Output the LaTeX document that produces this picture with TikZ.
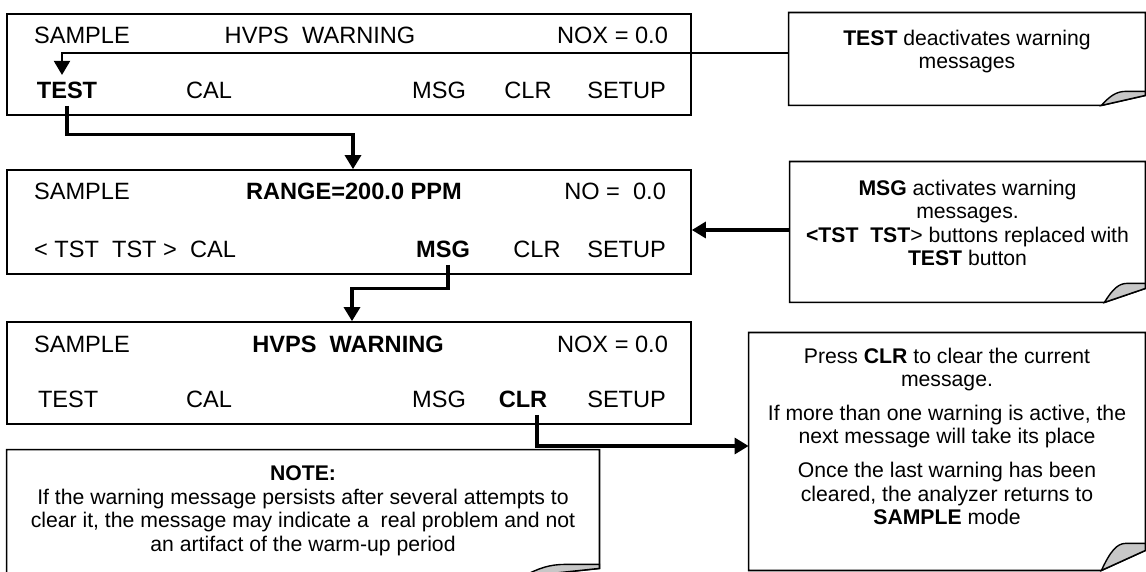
\documentclass[tikz,border=0pt]{standalone}
\usepackage{fontspec}
\setmainfont{Liberation Sans}
\usepackage{tikz}
\usetikzlibrary{arrows.meta}
\usetikzlibrary{positioning}
\tikzset{>={Triangle[width=8pt,length=7pt]}}
\tikzset{screen/.style = {draw, line width=0.85pt, minimum width=342pt, inner sep=0pt}}
\tikzset{key/.style = {anchor=base, font=\fontsize{11.8}{14}\selectfont}}
\tikzset{callbox/.style = {inner sep=0pt}}
\tikzset{calltext/.style = {anchor=north, align=center, font=\fontsize{10.6}{11.8}\selectfont}}
\tikzset{link/.style = {->, line width=1.6pt}}
\tikzset{thinlink/.style = {->, line width=1pt}}
\newcommand{\foldbox}[4]{%
  \draw[line width=0.85pt] (#1.north west) -- (#1.north east) -- ([yshift=#3]#1.south east)
    -- ([xshift=-#2]#1.south east) -- (#1.south west) -- cycle;
  \draw[line width=0.7pt, fill=black!22] ([xshift=-#2]#1.south east)
    .. controls ([xshift={-0.8*#2},yshift={0.7*#4}]#1.south east) and ([xshift={-0.65*#2},yshift={#4}]#1.south east)
    .. ([xshift={-0.45*#2},yshift={#4}]#1.south east) -- ([yshift={#4}]#1.south east)
    -- ([yshift=#3]#1.south east) -- cycle;
}

\begin{document}
\begin{tikzpicture}[x=0.5pt,y=-0.5pt]
  \clip (0,0) rectangle (1146,572);
  \useasboundingbox (0,0) rectangle (1146,572);

  \node[screen, minimum height=50.5pt] (scr1) at (349,64.5) {};
  \node[screen, minimum height=52pt] (scr2) at (349,222) {};
  \node[screen, minimum height=51pt] (scr3) at (349,373) {};

  \node[key, anchor=base west] (sample1) at (27,44) {SAMPLE};
  \node[key] (title1) at (320,44) {HVPS\ \ WARNING};
  \node[key, anchor=base east] (nox1) at (675,44) {NOX = 0.0};
  \node[key] (test1) at (67,98.5) {\textbf{TEST}};
  \node[key] (cal1) at (209,98.5) {CAL};
  \node[key] (msg1) at (439,98.5) {MSG};
  \node[key] (clr1) at (528,98.5) {CLR};
  \node[key, anchor=base east] (setup1) at (673,98.5) {SETUP};

  \node[key, anchor=base west] (sample2) at (27,200) {SAMPLE};
  \node[key] (range2) at (354,200) {\textbf{RANGE=200.0 PPM}};
  \node[key, anchor=base east] (no2) at (673,200) {NO =\ \ 0.0};
  \node[key, anchor=base west] (tst2) at (27,257.5) {< TST\ \ TST >\ \ CAL};
  \node[key] (msg2) at (443,257.5) {\textbf{MSG}};
  \node[key] (clr2) at (537,257.5) {CLR};
  \node[key, anchor=base east] (setup2) at (673,257.5) {SETUP};

  \node[key, anchor=base west] (sample3) at (27,352) {SAMPLE};
  \node[key] (title3) at (348,352) {\textbf{HVPS\ \ WARNING}};
  \node[key, anchor=base east] (nox3) at (675,352) {NOX = 0.0};
  \node[key, anchor=base west] (test3) at (31,407.5) {TEST};
  \node[key] (cal3) at (209,407.5) {CAL};
  \node[key] (msg3) at (439,407.5) {MSG};
  \node[key] (clr3) at (523,407.5) {\textbf{CLR}};
  \node[key, anchor=base east] (setup3) at (673,407.5) {SETUP};

  \node[callbox, minimum width=178pt, minimum height=46pt] (testbox) at (967,59) {};
  \node[callbox, minimum width=177.5pt, minimum height=70pt] (msgbox) at (967.5,232) {};
  \node[callbox, minimum width=198pt, minimum height=118.5pt] (clrbox) at (947,451.5) {};
  \node[callbox, minimum width=296pt, minimum height=63pt] (notebox) at (303,513) {};
  \foldbox{testbox}{22pt}{5pt}{7pt}
  \foldbox{msgbox}{20.5pt}{7pt}{9.5pt}
  \foldbox{clrbox}{22pt}{10pt}{13.5pt}
  \foldbox{notebox}{38pt}{4pt}{6pt}

  \node[calltext] (testtxt) at ([yshift=-5pt]testbox.north) {\textbf{TEST} deactivates warning\\messages};
  \node[calltext] (msgtxt) at ([yshift=-5.5pt]msgbox.north) {\textbf{MSG} activates warning\\messages.\\\textbf{<TST\ \ TST}> buttons replaced with\\\textbf{TEST} button};
  \node[calltext] (clrtxt) at ([yshift=-4pt]clrbox.north) {Press \textbf{CLR} to clear the current\\message.\\[5pt]If more than one warning is active, the\\next message will take its place\\[5pt]Once the last warning has been\\cleared, the analyzer returns to\\\textbf{SAMPLE} mode};
  \node[calltext] (notetxt) at ([yshift=-4.5pt]notebox.north) {\textbf{NOTE:}\\If the warning message persists after several attempts to\\clear it, the message may indicate a\ \ real problem and not\\an artifact of the warm-up period};

  \draw[thinlink] (testbox.west |- 0,53) -| ([xshift=-2.5pt]test1.north);
  \draw[link] (test1.south) -- ++(0,29) -| ([xshift=2pt]scr2.north);
  \draw[link] ([xshift=2.5pt]msg2.south) -- ++(0,24) -| ([xshift=1.5pt]scr3.north);
  \draw[link] (msgbox.west |- 0,230) -- (scr2.east |- 0,230);
  \draw[link] ([xshift=7pt]clr3.south) |- (clrbox.west |- 0,446);
\end{tikzpicture}
\end{document}
